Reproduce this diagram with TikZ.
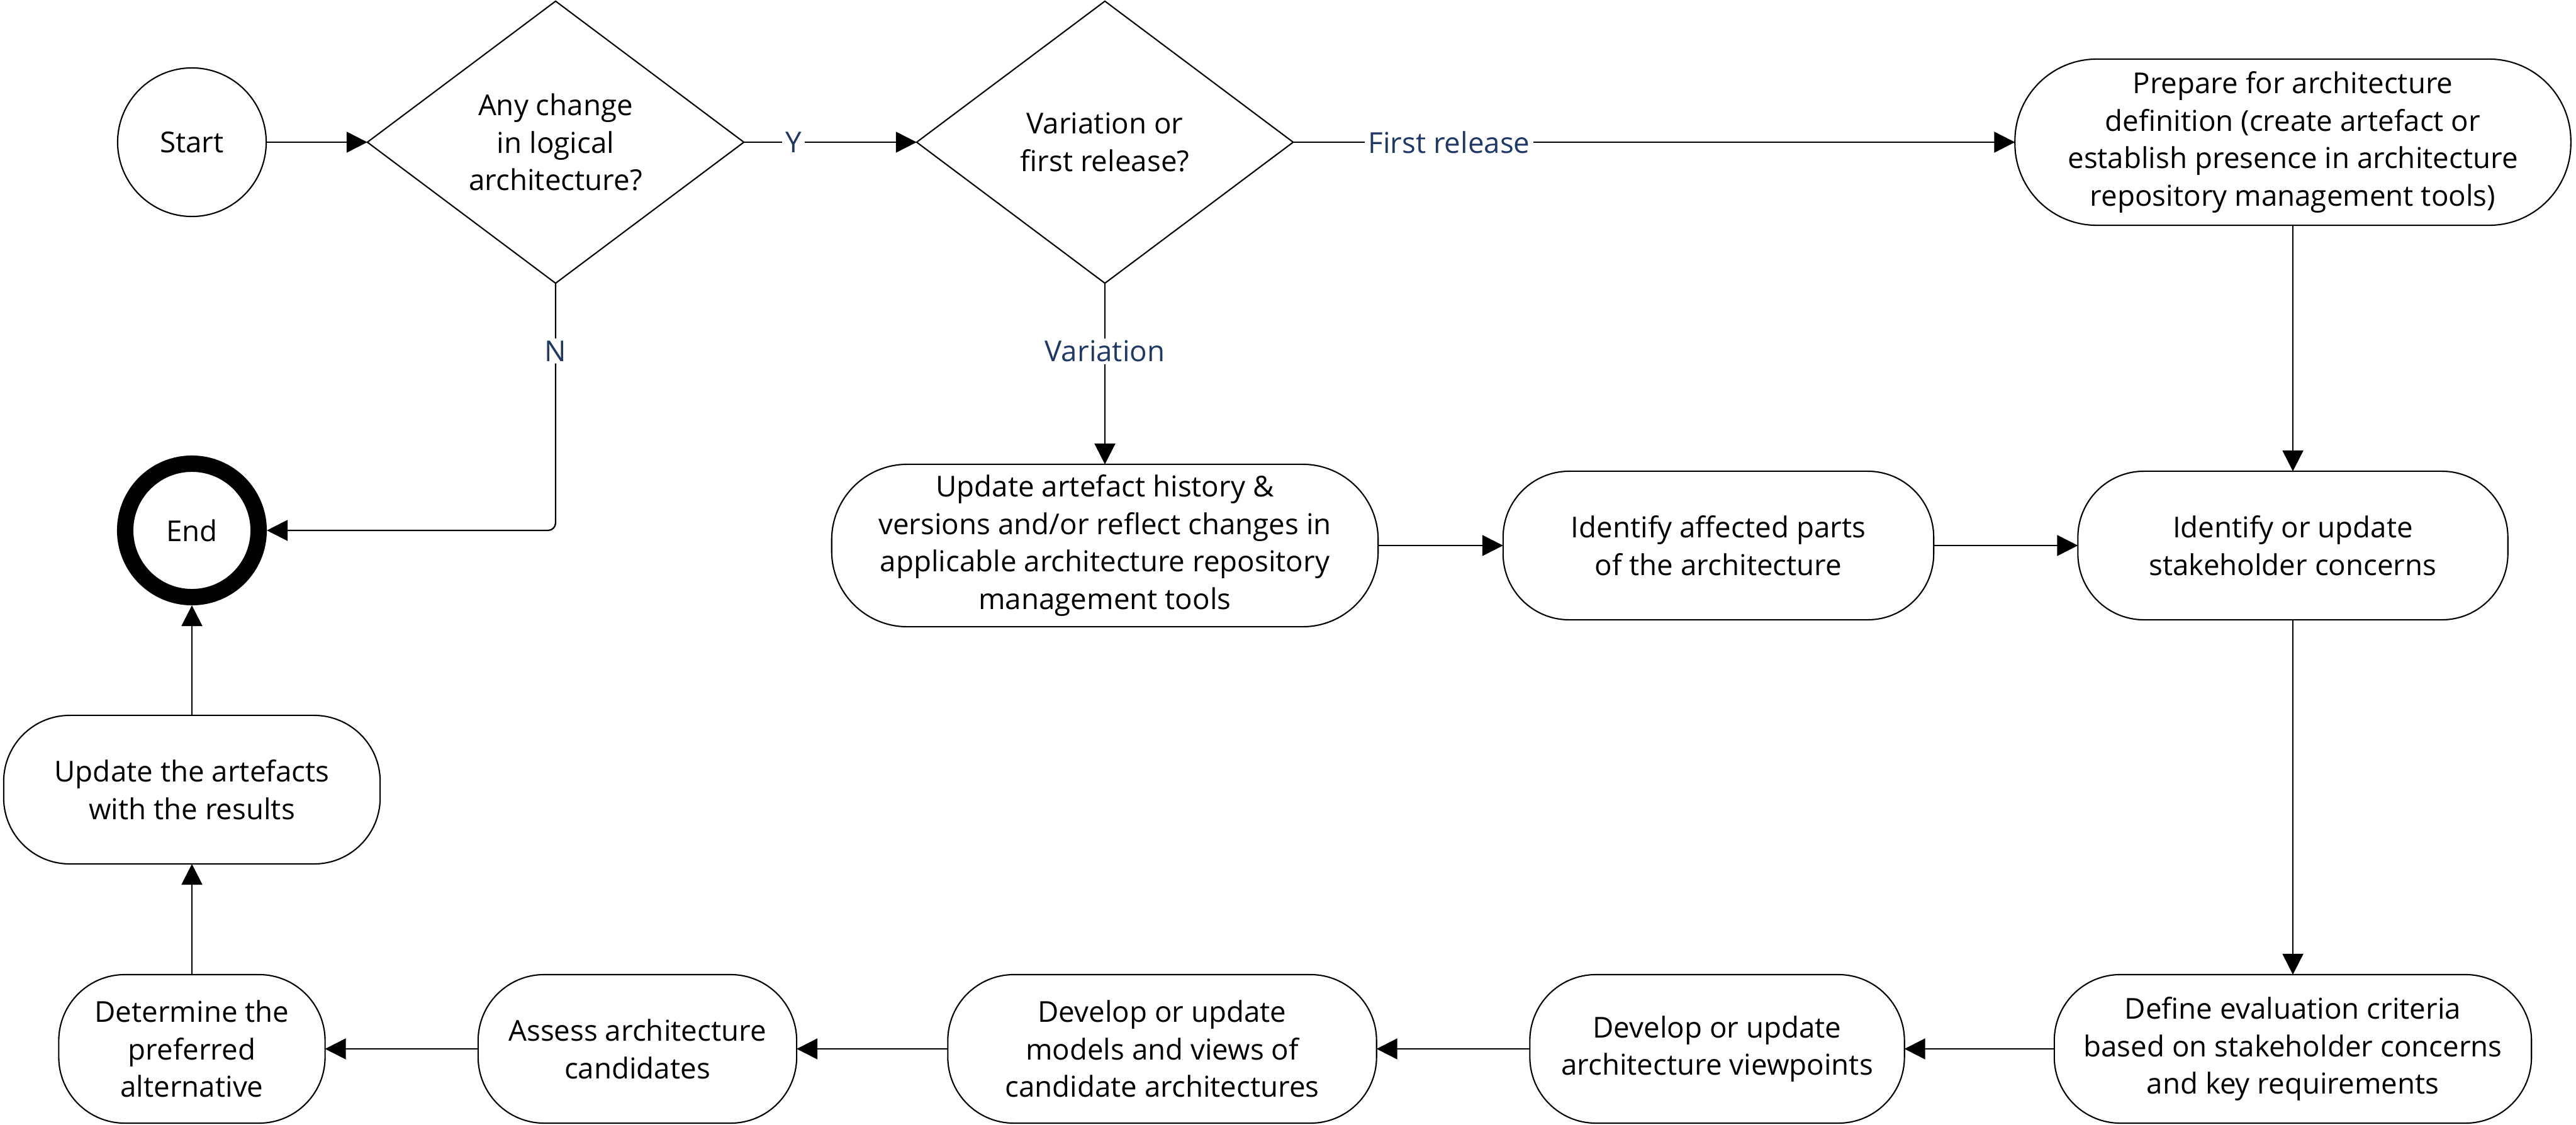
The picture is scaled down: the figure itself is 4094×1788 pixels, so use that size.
\documentclass[tikz,border=0pt]{standalone}
\usepackage{fontspec}
\setmainfont{Open Sans}
\usetikzlibrary{arrows.meta,shapes.geometric}
\definecolor{lblcol}{HTML}{1F3864}
\begin{document}
\begin{tikzpicture}[x=0.01cm,y=-0.01cm]
\tikzset{
  base/.style={font=\fontsize{13pt}{17pt}\selectfont, align=center, line width=0.6pt},
  stepbox/.style={base, draw, rectangle, rounded corners=1.05cm, inner sep=0pt, outer sep=0pt, minimum height=2.36cm},
  decision/.style={base, draw, diamond, aspect=1.33, inner sep=0pt, outer sep=0pt, minimum width=5.98cm, minimum height=4.48cm},
  term/.style={base, draw, circle, inner sep=0pt, outer sep=0pt},
  arr/.style={line width=0.65pt, -{Triangle[length=0.33cm,width=0.33cm]}},
  lbl/.style={fill=white, text=lblcol, inner xsep=1.5pt, inner ysep=1pt, font=\fontsize{13pt}{17pt}\selectfont}
}
\useasboundingbox (0,0) rectangle (4094,1788);

% nodes
\node[term, minimum size=2.36cm] (start) at (305,226) {Start};
\node[decision] (d1) at (883,226) {Any change\\in logical\\architecture?};
\node[decision] (d2) at (1756,226) {Variation or\\first release?};
\node[stepbox, rounded corners=1.3cm, minimum width=8.83cm, minimum height=2.64cm] (prep) at (3644,226)
  {Prepare for architecture\\definition (create artefact or\\establish presence in architecture\\repository management tools)};
\node[stepbox, rounded corners=1.2cm, minimum width=8.68cm, minimum height=2.58cm] (uhist) at (1756,867)
  {Update artefact history \&\\versions and/or reflect changes in\\applicable architecture repository\\management tools};
\node[stepbox, minimum width=6.84cm] (iaff) at (2731,867) {Identify affected parts\\of the architecture};
\node[stepbox, minimum width=6.83cm] (ish) at (3644,867) {Identify or update\\stakeholder concerns};
\node[stepbox, minimum width=7.58cm] (def) at (3644,1667) {Define evaluation criteria\\based on stakeholder concerns\\and key requirements};
\node[stepbox, minimum width=5.95cm] (dvp) at (2729,1667) {Develop or update\\architecture viewpoints};
\node[stepbox, minimum width=6.81cm] (dmod) at (1847,1667) {Develop or update\\models and views of\\candidate architectures};
\node[stepbox, minimum width=5.06cm] (ass) at (1013,1667) {Assess architecture\\candidates};
\node[stepbox, minimum width=4.23cm] (det) at (305,1667) {Determine the\\preferred\\alternative};
\node[stepbox, minimum width=5.98cm] (uart) at (305,1255) {Update the artefacts\\with the results};
\node[term, line width=0.26cm, minimum size=2.12cm, outer sep=0.13cm] (end) at (305,843) {End};

% connectors
\draw[arr] (start) -- (d1);
\draw[arr] (d1) -- node[lbl, pos=0.287] {Y} (d2);
\draw[arr] (d2) -- node[lbl, pos=0.216] {First release} (prep);
\draw[arr] (d2) -- node[lbl, pos=0.376] {Variation} (uhist);
\draw[arr, rounded corners=0.12cm] (d1.south) |- node[lbl, pos=0.137] {N} (end.east);
\draw[arr] (uhist) -- (iaff);
\draw[arr] (iaff) -- (ish);
\draw[arr] (prep) -- (ish);
\draw[arr] (ish) -- (def);
\draw[arr] (def) -- (dvp);
\draw[arr] (dvp) -- (dmod);
\draw[arr] (dmod) -- (ass);
\draw[arr] (ass) -- (det);
\draw[arr] (det) -- (uart);
\draw[arr] (uart) -- (end);
\end{tikzpicture}
\end{document}
